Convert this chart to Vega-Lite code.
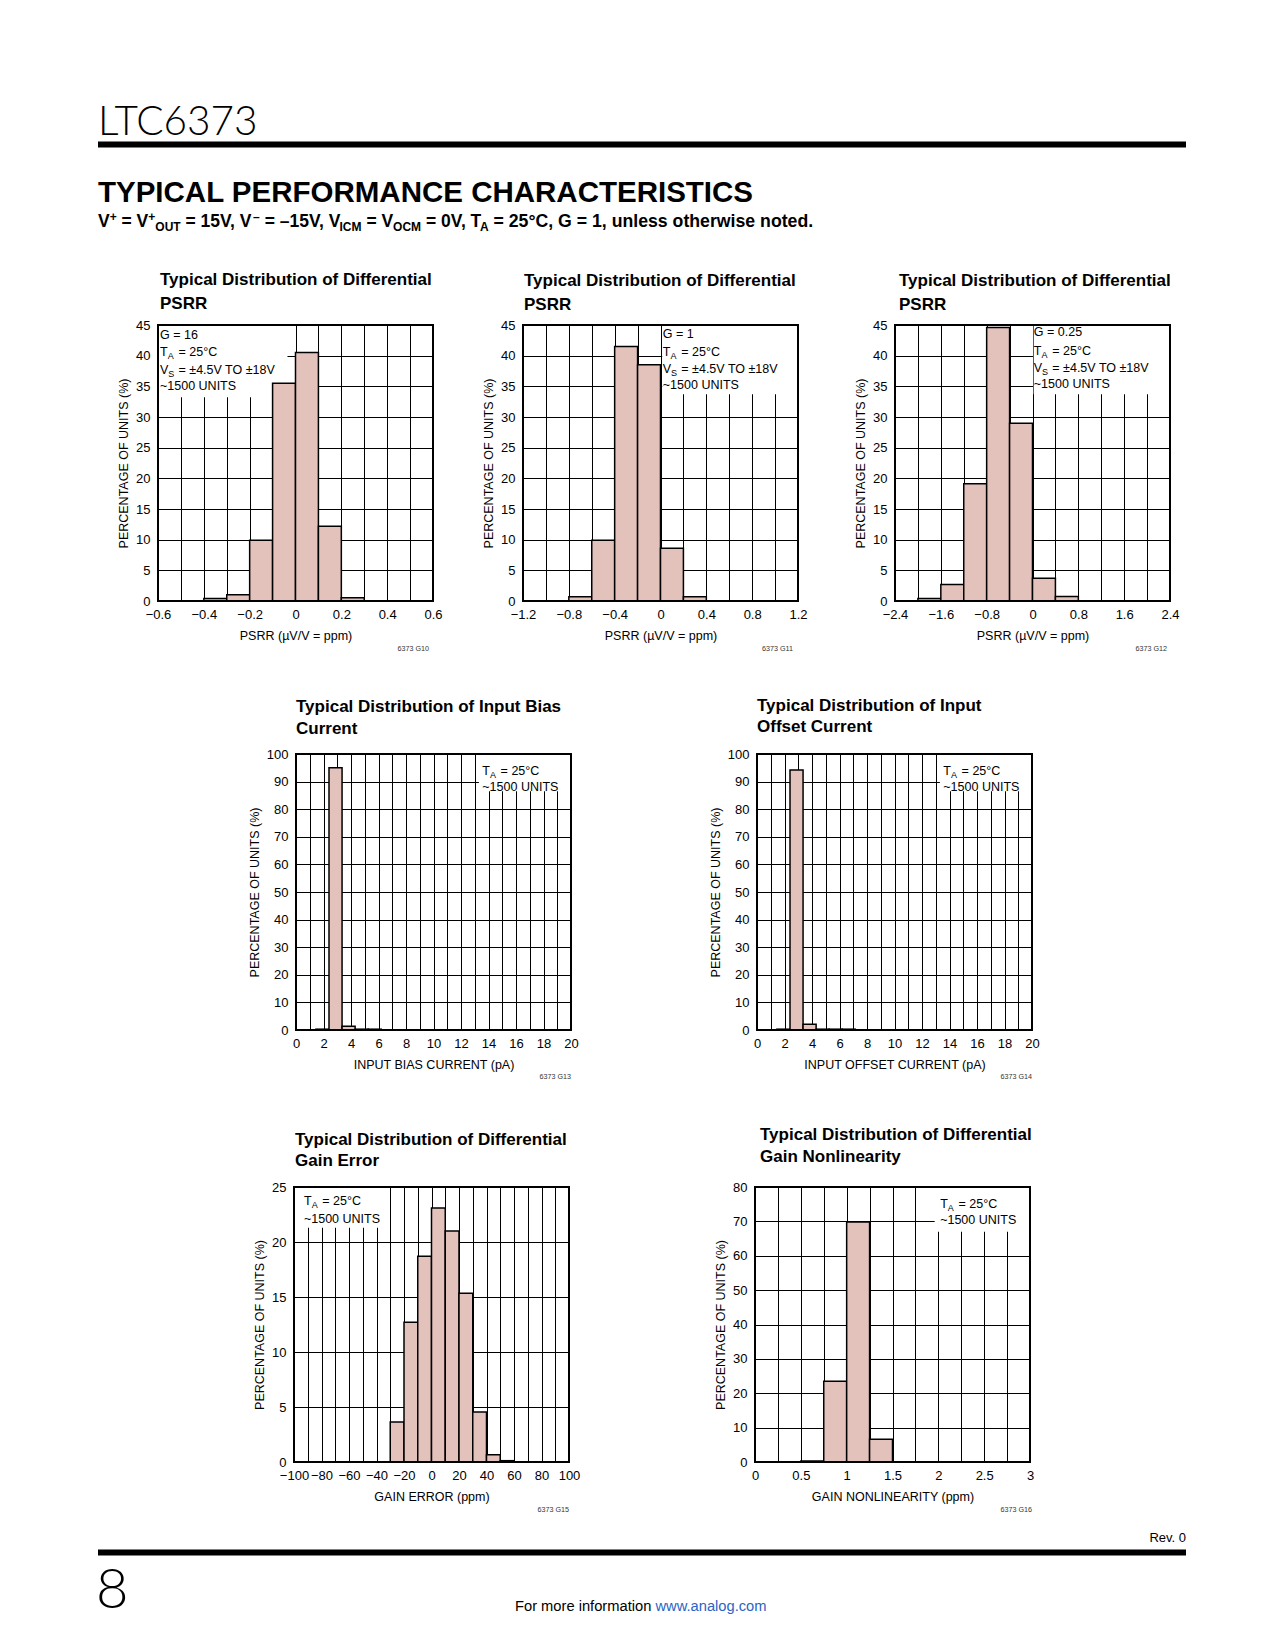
{
 "$schema": "https://vega.github.io/schema/vega-lite/v6.json",
 "background": "white",
 "padding": {"left": 95, "top": 90, "right": 5, "bottom": 5},
 "spacing": 0,
 "vconcat": [
  {
   "width": 1088, "height": 181,
   "data": {"values": [{}]},
   "layer": [
    {"mark": {"type": "rule", "color": "black", "strokeWidth": 6},
     "encoding": {"x": {"datum": 95, "type": "quantitative", "scale": {"domain": [95, 1183], "nice": false, "zero": false}, "axis": null}, "x2": {"datum": 1183}, "y": {"datum": 144.5, "type": "quantitative", "scale": {"domain": [90, 271], "reverse": true, "nice": false, "zero": false}, "axis": null}}},
    {"mark": {"type": "text", "align": "left", "baseline": "alphabetic", "font": "Lato", "fontWeight": 300, "fontSize": 40.5},
     "encoding": {"x": {"datum": 95, "axis": null}, "y": {"datum": 135, "axis": null}, "text": {"value": "LTC6373"}}},
    {"mark": {"type": "text", "align": "left", "baseline": "alphabetic", "fontWeight": "bold", "fontSize": 29.5},
     "encoding": {"x": {"datum": 95, "axis": null}, "y": {"datum": 202, "axis": null}, "text": {"value": "TYPICAL PERFORMANCE CHARACTERISTICS"}}},
    {"mark": {"type": "text", "align": "left", "baseline": "alphabetic", "fontWeight": "bold", "fontSize": 17.5},
     "encoding": {"x": {"datum": 95, "axis": null}, "y": {"datum": 227, "axis": null}, "text": {"value": "V"}}},
    {"mark": {"type": "text", "align": "left", "baseline": "alphabetic", "fontWeight": "bold", "fontSize": 12, "dy": -6.5},
     "encoding": {"x": {"datum": 106.7, "axis": null}, "y": {"datum": 227, "axis": null}, "text": {"value": "+"}}},
    {"mark": {"type": "text", "align": "left", "baseline": "alphabetic", "fontWeight": "bold", "fontSize": 17.5},
     "encoding": {"x": {"datum": 118.5, "axis": null}, "y": {"datum": 227, "axis": null}, "text": {"value": "= V"}}},
    {"mark": {"type": "text", "align": "left", "baseline": "alphabetic", "fontWeight": "bold", "fontSize": 12, "dy": -6.5},
     "encoding": {"x": {"datum": 145.3, "axis": null}, "y": {"datum": 227, "axis": null}, "text": {"value": "+"}}},
    {"mark": {"type": "text", "align": "left", "baseline": "alphabetic", "fontWeight": "bold", "fontSize": 12, "dy": 4},
     "encoding": {"x": {"datum": 152.3, "axis": null}, "y": {"datum": 227, "axis": null}, "text": {"value": "OUT"}}},
    {"mark": {"type": "text", "align": "left", "baseline": "alphabetic", "fontWeight": "bold", "fontSize": 17.5},
     "encoding": {"x": {"datum": 182.5, "axis": null}, "y": {"datum": 227, "axis": null}, "text": {"value": "= 15V, V"}}},
    {"mark": {"type": "text", "align": "left", "baseline": "alphabetic", "fontWeight": "bold", "fontSize": 12, "dy": -6.5},
     "encoding": {"x": {"datum": 250.1, "axis": null}, "y": {"datum": 227, "axis": null}, "text": {"value": "–"}}},
    {"mark": {"type": "text", "align": "left", "baseline": "alphabetic", "fontWeight": "bold", "fontSize": 17.5},
     "encoding": {"x": {"datum": 261.7, "axis": null}, "y": {"datum": 227, "axis": null}, "text": {"value": "= –15V, V"}}},
    {"mark": {"type": "text", "align": "left", "baseline": "alphabetic", "fontWeight": "bold", "fontSize": 12, "dy": 4},
     "encoding": {"x": {"datum": 336.5, "axis": null}, "y": {"datum": 227, "axis": null}, "text": {"value": "ICM"}}},
    {"mark": {"type": "text", "align": "left", "baseline": "alphabetic", "fontWeight": "bold", "fontSize": 17.5},
     "encoding": {"x": {"datum": 363.4, "axis": null}, "y": {"datum": 227, "axis": null}, "text": {"value": "= V"}}},
    {"mark": {"type": "text", "align": "left", "baseline": "alphabetic", "fontWeight": "bold", "fontSize": 12, "dy": 4},
     "encoding": {"x": {"datum": 390.1, "axis": null}, "y": {"datum": 227, "axis": null}, "text": {"value": "OCM"}}},
    {"mark": {"type": "text", "align": "left", "baseline": "alphabetic", "fontWeight": "bold", "fontSize": 17.5},
     "encoding": {"x": {"datum": 423.0, "axis": null}, "y": {"datum": 227, "axis": null}, "text": {"value": "= 0V, T"}}},
    {"mark": {"type": "text", "align": "left", "baseline": "alphabetic", "fontWeight": "bold", "fontSize": 12, "dy": 4},
     "encoding": {"x": {"datum": 477.0, "axis": null}, "y": {"datum": 227, "axis": null}, "text": {"value": "A"}}},
    {"mark": {"type": "text", "align": "left", "baseline": "alphabetic", "fontWeight": "bold", "fontSize": 17.7},
     "encoding": {"x": {"datum": 490.5, "axis": null}, "y": {"datum": 227, "axis": null}, "text": {"value": "= 25°C, G = 1, unless otherwise noted."}}}
   ]
  },
  {
   "hconcat": [
    {"width": 60, "height": 372, "data": {"values": [{}]}, "mark": {"type": "point", "opacity": 0}, "encoding": {}},
    {
     "width": 275, "height": 276,
     "title": {"text": ["Typical Distribution of Differential", "PSRR"], "offset": 6, "dx": 2, "lineHeight": 24},
     "data": {"values": [{}]},
     "layer": [
      {"mark": {"type": "rect", "fill": "white"}, "encoding": {"x": {"datum": -0.6}, "x2": {"datum": -0.035}, "y": {"datum": 45}, "y2": {"datum": 33.2}}},
      {"data": {"values": [
        {"lo": -0.4, "hi": -0.3, "pct": 0.4},
        {"lo": -0.3, "hi": -0.2, "pct": 1.0},
        {"lo": -0.2, "hi": -0.1, "pct": 9.9},
        {"lo": -0.1, "hi": 0.0, "pct": 35.5},
        {"lo": 0.0, "hi": 0.1, "pct": 40.5},
        {"lo": 0.1, "hi": 0.2, "pct": 12.2},
        {"lo": 0.2, "hi": 0.3, "pct": 0.55}
       ]},
       "mark": {"type": "rect", "fill": "#e4c2bc", "stroke": "black", "strokeWidth": 1.5},
       "encoding": {
        "x": {"field": "lo", "type": "quantitative", "scale": {"domain": [-0.6, 0.6], "nice": false, "zero": false},
              "axis": {"values": [-0.6, -0.5, -0.4, -0.3, -0.2, -0.1, 0, 0.1, 0.2, 0.3, 0.4, 0.5, 0.6], "tickCount": 1000, "labelOverlap": false, "labelExpr": "round(abs(datum.value)*10) % 2 == 0 ? format(datum.value, '~g') : ''", "title": "PSRR (µV/V = ppm)"}},
        "x2": {"field": "hi"},
        "y": {"field": "pct", "type": "quantitative", "scale": {"domain": [0, 45], "nice": false, "zero": false},
              "axis": {"values": [0, 5, 10, 15, 20, 25, 30, 35, 40, 45], "tickCount": 1000, "labelOverlap": false, "labelExpr": "format(datum.value, '~g')", "title": "PERCENTAGE OF UNITS (%)"}},
        "y2": {"datum": 0}
       }},
      {"mark": {"type": "text", "align": "left", "baseline": "middle", "dx": 2}, "encoding": {"x": {"datum": -0.6}, "y": {"datum": 43.37}, "text": {"value": "G = 16"}}},
      {"mark": {"type": "text", "align": "left", "baseline": "middle", "dx": 2}, "encoding": {"x": {"datum": -0.6}, "y": {"datum": 40.55}, "text": {"value": "T"}}},
      {"mark": {"type": "text", "align": "left", "baseline": "middle", "dx": 9.7, "dy": 4, "fontSize": 9}, "encoding": {"x": {"datum": -0.6}, "y": {"datum": 40.55}, "text": {"value": "A"}}},
      {"mark": {"type": "text", "align": "left", "baseline": "middle", "dx": 20.5}, "encoding": {"x": {"datum": -0.6}, "y": {"datum": 40.55}, "text": {"value": "= 25°C"}}},
      {"mark": {"type": "text", "align": "left", "baseline": "middle", "dx": 2}, "encoding": {"x": {"datum": -0.6}, "y": {"datum": 37.65}, "text": {"value": "V"}}},
      {"mark": {"type": "text", "align": "left", "baseline": "middle", "dx": 10.3, "dy": 4, "fontSize": 9}, "encoding": {"x": {"datum": -0.6}, "y": {"datum": 37.65}, "text": {"value": "S"}}},
      {"mark": {"type": "text", "align": "left", "baseline": "middle", "dx": 20.5}, "encoding": {"x": {"datum": -0.6}, "y": {"datum": 37.65}, "text": {"value": "= ±4.5V TO ±18V"}}},
      {"mark": {"type": "text", "align": "left", "baseline": "middle", "dx": 2}, "encoding": {"x": {"datum": -0.6}, "y": {"datum": 35.0}, "text": {"value": "~1500 UNITS"}}},
      {"mark": {"type": "text", "align": "right", "baseline": "middle", "fontSize": 7.2, "dx": -4, "color": "#333333"}, "encoding": {"x": {"datum": 0.6}, "y": {"datum": -7.9}, "text": {"value": "6373 G10"}}},
      {"mark": {"type": "rect", "filled": false, "stroke": "black", "strokeWidth": 2}, "encoding": {"x": {"datum": -0.6}, "x2": {"datum": 0.6}, "y": {"datum": 0}, "y2": {"datum": 45}}}
     ]
    },
    {"width": 90, "height": 1, "data": {"values": [{}]}, "mark": {"type": "point", "opacity": 0}, "encoding": {}},
    {
     "width": 275, "height": 276,
     "title": {"text": ["Typical Distribution of Differential", "PSRR"], "offset": 5.5, "dx": 1, "lineHeight": 24},
     "data": {"values": [{}]},
     "layer": [
      {"mark": {"type": "rect", "fill": "white"}, "encoding": {"x": {"datum": 0.015}, "x2": {"datum": 1.2}, "y": {"datum": 45}, "y2": {"datum": 33.7}}},
      {"data": {"values": [
        {"lo": -0.8, "hi": -0.6, "pct": 0.7},
        {"lo": -0.6, "hi": -0.4, "pct": 9.9},
        {"lo": -0.4, "hi": -0.2, "pct": 41.5},
        {"lo": -0.2, "hi": 0.0, "pct": 38.5},
        {"lo": 0.0, "hi": 0.2, "pct": 8.6},
        {"lo": 0.2, "hi": 0.4, "pct": 0.7}
       ]},
       "mark": {"type": "rect", "fill": "#e4c2bc", "stroke": "black", "strokeWidth": 1.5},
       "encoding": {
        "x": {"field": "lo", "type": "quantitative", "scale": {"domain": [-1.2, 1.2], "nice": false, "zero": false},
              "axis": {"values": [-1.2, -1.0, -0.8, -0.6, -0.4, -0.2, 0, 0.2, 0.4, 0.6, 0.8, 1.0, 1.2], "tickCount": 1000, "labelOverlap": false, "labelExpr": "round(abs(datum.value)*5) % 2 == 0 ? format(datum.value, '~g') : ''", "title": "PSRR (µV/V = ppm)"}},
        "x2": {"field": "hi"},
        "y": {"field": "pct", "type": "quantitative", "scale": {"domain": [0, 45], "nice": false, "zero": false},
              "axis": {"values": [0, 5, 10, 15, 20, 25, 30, 35, 40, 45], "tickCount": 1000, "labelOverlap": false, "labelExpr": "format(datum.value, '~g')", "title": "PERCENTAGE OF UNITS (%)"}},
        "y2": {"datum": 0}
       }},
      {"mark": {"type": "text", "align": "left", "baseline": "middle", "dx": 2.3}, "encoding": {"x": {"datum": 0}, "y": {"datum": 43.53}, "text": {"value": "G = 1"}}},
      {"mark": {"type": "text", "align": "left", "baseline": "middle", "dx": 2.3}, "encoding": {"x": {"datum": 0}, "y": {"datum": 40.64}, "text": {"value": "T"}}},
      {"mark": {"type": "text", "align": "left", "baseline": "middle", "dx": 10.0, "dy": 4, "fontSize": 9}, "encoding": {"x": {"datum": 0}, "y": {"datum": 40.64}, "text": {"value": "A"}}},
      {"mark": {"type": "text", "align": "left", "baseline": "middle", "dx": 20.8}, "encoding": {"x": {"datum": 0}, "y": {"datum": 40.64}, "text": {"value": "= 25°C"}}},
      {"mark": {"type": "text", "align": "left", "baseline": "middle", "dx": 2.3}, "encoding": {"x": {"datum": 0}, "y": {"datum": 37.81}, "text": {"value": "V"}}},
      {"mark": {"type": "text", "align": "left", "baseline": "middle", "dx": 10.6, "dy": 4, "fontSize": 9}, "encoding": {"x": {"datum": 0}, "y": {"datum": 37.81}, "text": {"value": "S"}}},
      {"mark": {"type": "text", "align": "left", "baseline": "middle", "dx": 20.8}, "encoding": {"x": {"datum": 0}, "y": {"datum": 37.81}, "text": {"value": "= ±4.5V TO ±18V"}}},
      {"mark": {"type": "text", "align": "left", "baseline": "middle", "dx": 2.3}, "encoding": {"x": {"datum": 0}, "y": {"datum": 35.2}, "text": {"value": "~1500 UNITS"}}},
      {"mark": {"type": "text", "align": "right", "baseline": "middle", "fontSize": 7.2, "dx": -5, "color": "#333333"}, "encoding": {"x": {"datum": 1.2}, "y": {"datum": -7.9}, "text": {"value": "6373 G11"}}},
      {"mark": {"type": "rect", "filled": false, "stroke": "black", "strokeWidth": 2}, "encoding": {"x": {"datum": -1.2}, "x2": {"datum": 1.2}, "y": {"datum": 0}, "y2": {"datum": 45}}}
     ]
    },
    {"width": 97, "height": 1, "data": {"values": [{}]}, "mark": {"type": "point", "opacity": 0}, "encoding": {}},
    {
     "width": 275, "height": 276,
     "title": {"text": ["Typical Distribution of Differential", "PSRR"], "offset": 5.5, "dx": 4, "lineHeight": 24},
     "data": {"values": [{}]},
     "layer": [
      {"mark": {"type": "rect", "fill": "white"}, "encoding": {"x": {"datum": 0.02}, "x2": {"datum": 2.4}, "y": {"datum": 45}, "y2": {"datum": 33.7}}},
      {"data": {"values": [
        {"lo": -2.0, "hi": -1.6, "pct": 0.4},
        {"lo": -1.6, "hi": -1.2, "pct": 2.7},
        {"lo": -1.2, "hi": -0.8, "pct": 19.1},
        {"lo": -0.8, "hi": -0.4, "pct": 44.6},
        {"lo": -0.4, "hi": 0.0, "pct": 29.0},
        {"lo": 0.0, "hi": 0.4, "pct": 3.7},
        {"lo": 0.4, "hi": 0.8, "pct": 0.75}
       ]},
       "mark": {"type": "rect", "fill": "#e4c2bc", "stroke": "black", "strokeWidth": 1.5},
       "encoding": {
        "x": {"field": "lo", "type": "quantitative", "scale": {"domain": [-2.4, 2.4], "nice": false, "zero": false},
              "axis": {"values": [-2.4, -2.0, -1.6, -1.2, -0.8, -0.4, 0, 0.4, 0.8, 1.2, 1.6, 2.0, 2.4], "tickCount": 1000, "labelOverlap": false, "labelExpr": "round(abs(datum.value)*2.5) % 2 == 0 ? format(datum.value, '~g') : ''", "title": "PSRR (µV/V = ppm)"}},
        "x2": {"field": "hi"},
        "y": {"field": "pct", "type": "quantitative", "scale": {"domain": [0, 45], "nice": false, "zero": false},
              "axis": {"values": [0, 5, 10, 15, 20, 25, 30, 35, 40, 45], "tickCount": 1000, "labelOverlap": false, "labelExpr": "format(datum.value, '~g')", "title": "PERCENTAGE OF UNITS (%)"}},
        "y2": {"datum": 0}
       }},
      {"mark": {"type": "text", "align": "left", "baseline": "middle", "dx": 1.3}, "encoding": {"x": {"datum": 0}, "y": {"datum": 43.8}, "text": {"value": "G = 0.25"}}},
      {"mark": {"type": "text", "align": "left", "baseline": "middle", "dx": 1.3}, "encoding": {"x": {"datum": 0}, "y": {"datum": 40.8}, "text": {"value": "T"}}},
      {"mark": {"type": "text", "align": "left", "baseline": "middle", "dx": 9.0, "dy": 4, "fontSize": 9}, "encoding": {"x": {"datum": 0}, "y": {"datum": 40.8}, "text": {"value": "A"}}},
      {"mark": {"type": "text", "align": "left", "baseline": "middle", "dx": 19.8}, "encoding": {"x": {"datum": 0}, "y": {"datum": 40.8}, "text": {"value": "= 25°C"}}},
      {"mark": {"type": "text", "align": "left", "baseline": "middle", "dx": 1.3}, "encoding": {"x": {"datum": 0}, "y": {"datum": 38.07}, "text": {"value": "V"}}},
      {"mark": {"type": "text", "align": "left", "baseline": "middle", "dx": 9.6, "dy": 4, "fontSize": 9}, "encoding": {"x": {"datum": 0}, "y": {"datum": 38.07}, "text": {"value": "S"}}},
      {"mark": {"type": "text", "align": "left", "baseline": "middle", "dx": 19.8}, "encoding": {"x": {"datum": 0}, "y": {"datum": 38.07}, "text": {"value": "= ±4.5V TO ±18V"}}},
      {"mark": {"type": "text", "align": "left", "baseline": "middle", "dx": 1.3}, "encoding": {"x": {"datum": 0}, "y": {"datum": 35.45}, "text": {"value": "~1500 UNITS"}}},
      {"mark": {"type": "text", "align": "right", "baseline": "middle", "fontSize": 7.2, "dx": -3, "color": "#333333"}, "encoding": {"x": {"datum": 2.4}, "y": {"datum": -7.9}, "text": {"value": "6373 G12"}}},
      {"mark": {"type": "rect", "filled": false, "stroke": "black", "strokeWidth": 2}, "encoding": {"x": {"datum": -2.4}, "x2": {"datum": 2.4}, "y": {"datum": 0}, "y2": {"datum": 45}}}
     ]
    }
   ],
   "spacing": 0,
   "bounds": "flush"
  },
  {
   "hconcat": [
    {"width": 198, "height": 371, "data": {"values": [{}]}, "mark": {"type": "point", "opacity": 0}, "encoding": {}},
    {
     "width": 275, "height": 276,
     "title": {"text": ["Typical Distribution of Input Bias", "Current"], "offset": 10.3, "dx": 0, "lineHeight": 22},
     "data": {"values": [{}]},
     "layer": [
      {"mark": {"type": "rect", "fill": "white"}, "encoding": {"x": {"datum": 13.3}, "x2": {"datum": 20}, "y": {"datum": 100}, "y2": {"datum": 86.5}}},
      {"data": {"values": [
        {"lo": 1.45, "hi": 2.4, "pct": 0.3},
        {"lo": 2.4, "hi": 3.35, "pct": 95.0},
        {"lo": 3.35, "hi": 4.3, "pct": 1.4},
        {"lo": 4.3, "hi": 5.25, "pct": 0.3},
        {"lo": 5.25, "hi": 6.2, "pct": 0.3}
       ]},
       "mark": {"type": "rect", "fill": "#e4c2bc", "stroke": "black", "strokeWidth": 1.5},
       "encoding": {
        "x": {"field": "lo", "type": "quantitative", "scale": {"domain": [0, 20], "nice": false, "zero": false},
              "axis": {"values": [0,1,2,3,4,5,6,7,8,9,10,11,12,13,14,15,16,17,18,19,20], "tickCount": 1000, "labelOverlap": false, "labelExpr": "datum.value % 2 == 0 ? format(datum.value, '~g') : ''", "title": "INPUT BIAS CURRENT (pA)"}},
        "x2": {"field": "hi"},
        "y": {"field": "pct", "type": "quantitative", "scale": {"domain": [0, 100], "nice": false, "zero": false},
              "axis": {"values": [0, 10, 20, 30, 40, 50, 60, 70, 80, 90, 100], "tickCount": 1000, "labelOverlap": false, "labelExpr": "format(datum.value, '~g')", "title": "PERCENTAGE OF UNITS (%)"}},
        "y2": {"datum": 0}
       }},
      {"mark": {"type": "text", "align": "left", "baseline": "middle", "dx": 0}, "encoding": {"x": {"datum": 13.55}, "y": {"datum": 93.7}, "text": {"value": "T"}}},
      {"mark": {"type": "text", "align": "left", "baseline": "middle", "dx": 7.7, "dy": 4, "fontSize": 9}, "encoding": {"x": {"datum": 13.55}, "y": {"datum": 93.7}, "text": {"value": "A"}}},
      {"mark": {"type": "text", "align": "left", "baseline": "middle", "dx": 18.3}, "encoding": {"x": {"datum": 13.55}, "y": {"datum": 93.7}, "text": {"value": "= 25°C"}}},
      {"mark": {"type": "text", "align": "left", "baseline": "middle", "dx": 0}, "encoding": {"x": {"datum": 13.55}, "y": {"datum": 88.2}, "text": {"value": "~1500 UNITS"}}},
      {"mark": {"type": "text", "align": "right", "baseline": "middle", "fontSize": 7.2, "dx": 0, "color": "#333333"}, "encoding": {"x": {"datum": 20}, "y": {"datum": -17.2}, "text": {"value": "6373 G13"}}},
      {"mark": {"type": "rect", "filled": false, "stroke": "black", "strokeWidth": 2}, "encoding": {"x": {"datum": 0}, "x2": {"datum": 20}, "y": {"datum": 0}, "y2": {"datum": 100}}}
     ]
    },
    {"width": 186, "height": 1, "data": {"values": [{}]}, "mark": {"type": "point", "opacity": 0}, "encoding": {}},
    {
     "width": 275, "height": 276,
     "title": {"text": ["Typical Distribution of Input", "Offset Current"], "offset": 12, "dx": 0, "lineHeight": 21},
     "data": {"values": [{}]},
     "layer": [
      {"mark": {"type": "rect", "fill": "white"}, "encoding": {"x": {"datum": 13.3}, "x2": {"datum": 20}, "y": {"datum": 100}, "y2": {"datum": 86.5}}},
      {"data": {"values": [
        {"lo": 1.45, "hi": 2.4, "pct": 0.3},
        {"lo": 2.4, "hi": 3.35, "pct": 94.2},
        {"lo": 3.35, "hi": 4.3, "pct": 2.1},
        {"lo": 4.3, "hi": 5.25, "pct": 0.3},
        {"lo": 5.25, "hi": 6.2, "pct": 0.3},
        {"lo": 6.2, "hi": 7.15, "pct": 0.3}
       ]},
       "mark": {"type": "rect", "fill": "#e4c2bc", "stroke": "black", "strokeWidth": 1.5},
       "encoding": {
        "x": {"field": "lo", "type": "quantitative", "scale": {"domain": [0, 20], "nice": false, "zero": false},
              "axis": {"values": [0,1,2,3,4,5,6,7,8,9,10,11,12,13,14,15,16,17,18,19,20], "tickCount": 1000, "labelOverlap": false, "labelExpr": "datum.value % 2 == 0 ? format(datum.value, '~g') : ''", "title": "INPUT OFFSET CURRENT (pA)"}},
        "x2": {"field": "hi"},
        "y": {"field": "pct", "type": "quantitative", "scale": {"domain": [0, 100], "nice": false, "zero": false},
              "axis": {"values": [0, 10, 20, 30, 40, 50, 60, 70, 80, 90, 100], "tickCount": 1000, "labelOverlap": false, "labelExpr": "format(datum.value, '~g')", "title": "PERCENTAGE OF UNITS (%)"}},
        "y2": {"datum": 0}
       }},
      {"mark": {"type": "text", "align": "left", "baseline": "middle", "dx": 0}, "encoding": {"x": {"datum": 13.55}, "y": {"datum": 93.7}, "text": {"value": "T"}}},
      {"mark": {"type": "text", "align": "left", "baseline": "middle", "dx": 7.7, "dy": 4, "fontSize": 9}, "encoding": {"x": {"datum": 13.55}, "y": {"datum": 93.7}, "text": {"value": "A"}}},
      {"mark": {"type": "text", "align": "left", "baseline": "middle", "dx": 18.3}, "encoding": {"x": {"datum": 13.55}, "y": {"datum": 93.7}, "text": {"value": "= 25°C"}}},
      {"mark": {"type": "text", "align": "left", "baseline": "middle", "dx": 0}, "encoding": {"x": {"datum": 13.55}, "y": {"datum": 88.2}, "text": {"value": "~1500 UNITS"}}},
      {"mark": {"type": "text", "align": "right", "baseline": "middle", "fontSize": 7.2, "dx": 0, "color": "#333333"}, "encoding": {"x": {"datum": 20}, "y": {"datum": -17.2}, "text": {"value": "6373 G14"}}},
      {"mark": {"type": "rect", "filled": false, "stroke": "black", "strokeWidth": 2}, "encoding": {"x": {"datum": 0}, "x2": {"datum": 20}, "y": {"datum": 0}, "y2": {"datum": 100}}}
     ]
    }
   ],
   "spacing": 0,
   "bounds": "flush"
  },
  {
   "hconcat": [
    {"width": 196, "height": 338, "data": {"values": [{}]}, "mark": {"type": "point", "opacity": 0}, "encoding": {}},
    {
     "width": 275, "height": 275,
     "title": {"text": ["Typical Distribution of Differential", "Gain Error"], "offset": 10.9, "dx": 1, "lineHeight": 21.5},
     "data": {"values": [{}]},
     "layer": [
      {"mark": {"type": "rect", "fill": "white"}, "encoding": {"x": {"datum": -100}, "x2": {"datum": -35}, "y": {"datum": 25}, "y2": {"datum": 21.3}}},
      {"data": {"values": [
        {"lo": -30, "hi": -20, "pct": 3.64},
        {"lo": -20, "hi": -10, "pct": 12.7},
        {"lo": -10, "hi": 0, "pct": 18.7},
        {"lo": 0, "hi": 10, "pct": 23.1},
        {"lo": 10, "hi": 20, "pct": 21.0},
        {"lo": 20, "hi": 30, "pct": 15.35},
        {"lo": 30, "hi": 40, "pct": 4.55},
        {"lo": 40, "hi": 50, "pct": 0.67},
        {"lo": 50, "hi": 60, "pct": 0.12}
       ]},
       "mark": {"type": "rect", "fill": "#e4c2bc", "stroke": "black", "strokeWidth": 1.5},
       "encoding": {
        "x": {"field": "lo", "type": "quantitative", "scale": {"domain": [-100, 100], "nice": false, "zero": false},
              "axis": {"values": [-100,-90,-80,-70,-60,-50,-40,-30,-20,-10,0,10,20,30,40,50,60,70,80,90,100], "tickCount": 1000, "labelOverlap": false, "labelExpr": "round(abs(datum.value)/10) % 2 == 0 ? format(datum.value, '~g') : ''", "title": "GAIN ERROR (ppm)"}},
        "x2": {"field": "hi"},
        "y": {"field": "pct", "type": "quantitative", "scale": {"domain": [0, 25], "nice": false, "zero": false},
              "axis": {"values": [0, 5, 10, 15, 20, 25], "tickCount": 1000, "labelOverlap": false, "labelExpr": "format(datum.value, '~g')", "title": "PERCENTAGE OF UNITS (%)"}},
        "y2": {"datum": 0}
       }},
      {"mark": {"type": "text", "align": "left", "baseline": "middle", "dx": 0}, "encoding": {"x": {"datum": -92.75}, "y": {"datum": 23.69}, "text": {"value": "T"}}},
      {"mark": {"type": "text", "align": "left", "baseline": "middle", "dx": 7.7, "dy": 4, "fontSize": 9}, "encoding": {"x": {"datum": -92.75}, "y": {"datum": 23.69}, "text": {"value": "A"}}},
      {"mark": {"type": "text", "align": "left", "baseline": "middle", "dx": 18.3}, "encoding": {"x": {"datum": -92.75}, "y": {"datum": 23.69}, "text": {"value": "= 25°C"}}},
      {"mark": {"type": "text", "align": "left", "baseline": "middle", "dx": 0}, "encoding": {"x": {"datum": -92.75}, "y": {"datum": 22.1}, "text": {"value": "~1500 UNITS"}}},
      {"mark": {"type": "text", "align": "right", "baseline": "middle", "fontSize": 7.2, "dx": 0, "color": "#333333"}, "encoding": {"x": {"datum": 100}, "y": {"datum": -4.4}, "text": {"value": "6373 G15"}}},
      {"mark": {"type": "rect", "filled": false, "stroke": "black", "strokeWidth": 2}, "encoding": {"x": {"datum": -100}, "x2": {"datum": 100}, "y": {"datum": 0}, "y2": {"datum": 25}}}
     ]
    },
    {"width": 186, "height": 1, "data": {"values": [{}]}, "mark": {"type": "point", "opacity": 0}, "encoding": {}},
    {
     "width": 275, "height": 275,
     "title": {"text": ["Typical Distribution of Differential", "Gain Nonlinearity"], "offset": 14.9, "dx": 5, "lineHeight": 22.5},
     "data": {"values": [{}]},
     "layer": [
      {"mark": {"type": "rect", "fill": "white"}, "encoding": {"x": {"datum": 1.96}, "x2": {"datum": 3}, "y": {"datum": 80}, "y2": {"datum": 67}}},
      {"data": {"values": [
        {"lo": 0.5, "hi": 0.75, "pct": 0.3},
        {"lo": 0.75, "hi": 1.0, "pct": 23.5},
        {"lo": 1.0, "hi": 1.25, "pct": 69.8},
        {"lo": 1.25, "hi": 1.5, "pct": 6.6}
       ]},
       "mark": {"type": "rect", "fill": "#e4c2bc", "stroke": "black", "strokeWidth": 1.5},
       "encoding": {
        "x": {"field": "lo", "type": "quantitative", "scale": {"domain": [0, 3], "nice": false, "zero": false},
              "axis": {"values": [0,0.25,0.5,0.75,1,1.25,1.5,1.75,2,2.25,2.5,2.75,3], "tickCount": 1000, "labelOverlap": false, "labelExpr": "round(datum.value*4) % 2 == 0 ? format(datum.value, '~g') : ''", "title": "GAIN NONLINEARITY (ppm)"}},
        "x2": {"field": "hi"},
        "y": {"field": "pct", "type": "quantitative", "scale": {"domain": [0, 80], "nice": false, "zero": false},
              "axis": {"values": [0, 10, 20, 30, 40, 50, 60, 70, 80], "tickCount": 1000, "labelOverlap": false, "labelExpr": "format(datum.value, '~g')", "title": "PERCENTAGE OF UNITS (%)"}},
        "y2": {"datum": 0}
       }},
      {"mark": {"type": "text", "align": "left", "baseline": "middle", "dx": 0}, "encoding": {"x": {"datum": 2.02}, "y": {"datum": 75.14}, "text": {"value": "T"}}},
      {"mark": {"type": "text", "align": "left", "baseline": "middle", "dx": 7.7, "dy": 4, "fontSize": 9}, "encoding": {"x": {"datum": 2.02}, "y": {"datum": 75.14}, "text": {"value": "A"}}},
      {"mark": {"type": "text", "align": "left", "baseline": "middle", "dx": 18.3}, "encoding": {"x": {"datum": 2.02}, "y": {"datum": 75.14}, "text": {"value": "= 25°C"}}},
      {"mark": {"type": "text", "align": "left", "baseline": "middle", "dx": 0}, "encoding": {"x": {"datum": 2.02}, "y": {"datum": 70.49}, "text": {"value": "~1500 UNITS"}}},
      {"mark": {"type": "text", "align": "right", "baseline": "middle", "fontSize": 7.2, "dx": 2, "color": "#333333"}, "encoding": {"x": {"datum": 3}, "y": {"datum": -14.1}, "text": {"value": "6373 G16"}}},
      {"mark": {"type": "rect", "filled": false, "stroke": "black", "strokeWidth": 2}, "encoding": {"x": {"datum": 0}, "x2": {"datum": 3}, "y": {"datum": 0}, "y2": {"datum": 80}}}
     ]
    }
   ],
   "spacing": 0,
   "bounds": "flush"
  },
  {
   "width": 1088, "height": 100,
   "data": {"values": [{}]},
   "layer": [
    {"mark": {"type": "rule", "color": "black", "strokeWidth": 6},
     "encoding": {"x": {"datum": 95, "type": "quantitative", "scale": {"domain": [95, 1183], "nice": false, "zero": false}, "axis": null}, "x2": {"datum": 1183}, "y": {"datum": 1554.5, "type": "quantitative", "scale": {"domain": [1527, 1627], "reverse": true, "nice": false, "zero": false}, "axis": null}}},
    {"mark": {"type": "text", "align": "right", "baseline": "alphabetic", "fontSize": 13},
     "encoding": {"x": {"datum": 1183, "axis": null}, "y": {"datum": 1544, "axis": null}, "text": {"value": "Rev. 0"}}},
    {"mark": {"type": "text", "align": "left", "baseline": "alphabetic", "font": "Lato", "fontWeight": 300, "fontSize": 56},
     "encoding": {"x": {"datum": 93, "axis": null}, "y": {"datum": 1610, "axis": null}, "text": {"value": "8"}}},
    {"mark": {"type": "text", "align": "left", "baseline": "alphabetic", "fontSize": 14.7},
     "encoding": {"x": {"datum": 512, "axis": null}, "y": {"datum": 1613, "axis": null}, "text": {"value": "For more information"}}},
    {"mark": {"type": "text", "align": "left", "baseline": "alphabetic", "fontSize": 14.7, "color": "#2a64c5"},
     "encoding": {"x": {"datum": 652.5, "axis": null}, "y": {"datum": 1613, "axis": null}, "text": {"value": "www.analog.com"}}}
   ]
  }
 ],
 "config": {
  "font": "Liberation Sans",
  "view": {"stroke": null},
  "text": {"font": "Liberation Sans", "fontSize": 12.5, "color": "black"},
  "axis": {"labelFont": "Liberation Sans", "labelFontSize": 13, "labelColor": "black", "titleFont": "Liberation Sans", "titleFontSize": 12.5, "titleFontWeight": "normal", "titleColor": "black", "grid": true, "gridColor": "black", "gridWidth": 1, "gridOpacity": 1, "domain": false, "ticks": false, "labelFlush": false, "labelOverlap": false, "tickCount": 1000},
  "axisX": {"labelPadding": 7, "titlePadding": 8},
  "axisY": {"labelPadding": 8, "titlePadding": 5},
  "title": {"font": "Liberation Sans", "fontSize": 17, "fontWeight": "bold", "color": "black", "anchor": "start", "frame": "group"}
 }
}
